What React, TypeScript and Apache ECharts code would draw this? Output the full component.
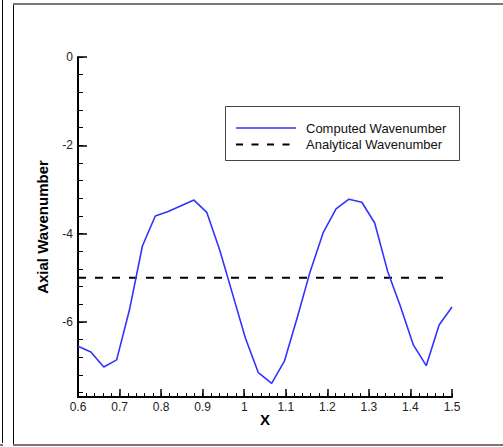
import React, { useEffect, useRef } from "react";
import * as echarts from "echarts";

const X_VALUES = [
  0.6, 0.631, 0.662, 0.693, 0.724, 0.755, 0.786, 0.817, 0.848, 0.879,
  0.91, 0.941, 0.972, 1.003, 1.034, 1.066, 1.097, 1.128, 1.159, 1.19,
  1.221, 1.252, 1.283, 1.314, 1.345, 1.376, 1.407, 1.438, 1.469, 1.5,
];
const COMPUTED = [
  -6.55, -6.68, -7.02, -6.86, -5.72, -4.28, -3.6, -3.5, -3.37, -3.24,
  -3.52, -4.37, -5.37, -6.37, -7.15, -7.39, -6.88, -5.89, -4.85, -3.98,
  -3.44, -3.22, -3.29, -3.76, -4.85, -5.65, -6.52, -6.99, -6.07, -5.66,
];
const ANALYTICAL_X = [0.6, 1.5];
const ANALYTICAL_Y = [-5, -5];

const X_TICKS = [0.6, 0.7, 0.8, 0.9, 1, 1.1, 1.2, 1.3, 1.4, 1.5];
const Y_TICKS = [0, -2, -4, -6];
const SERIES_NAMES = ["Computed Wavenumber", "Analytical Wavenumber"];
const X_TITLE = "X";
const Y_TITLE = "Axial Wavenumber";

const X_MIN = 0.6;
const X_MAX = 1.5;
const Y_MIN = -7.7;
const Y_MAX = 0;

function minorTicks(lo: number, hi: number, step: number): number[] {
  const out: number[] = [];
  const n = Math.round((hi - lo) / step);
  for (let i = 0; i <= n; i++) {
    out.push(Math.round((lo + i * step) * 1000) / 1000);
  }
  return out;
}

const X_MINOR = minorTicks(0.6, 1.5, 0.02);
const Y_MINOR = minorTicks(-7.6, 0, 0.4);

const FONT = "'Liberation Sans', Arial, Helvetica, sans-serif";
const BLUE = "#3333ff";

export default function App() {
  const ref = useRef<HTMLDivElement>(null);

  useEffect(() => {
    if (!ref.current) return;
    const chart = echarts.init(ref.current, undefined, { renderer: "svg" });

    const computedData = X_VALUES.map((x, i) => [x, COMPUTED[i]]);
    const analyticalData = ANALYTICAL_X.map((x, i) => [x, ANALYTICAL_Y[i]]);

    const axisFont = { fontFamily: FONT, fontSize: 12, color: "#222" };

    chart.setOption({
      animation: false,
      backgroundColor: "#ffffff",
      grid: { left: 78, top: 57, width: 374, height: 340, containLabel: false },
      xAxis: [
        {
          type: "value",
          min: X_MIN,
          max: X_MAX,
          position: "bottom",
          name: X_TITLE,
          nameLocation: "middle",
          nameGap: 15,
          nameMoveOverlap: false,
          nameTextStyle: { fontFamily: FONT, fontSize: 15, fontWeight: "bold", color: "#000" },
          axisLine: { show: true, onZero: false, lineStyle: { color: "#000", width: 2 } },
          axisTick: { show: true, inside: true, length: 8, customValues: X_TICKS, lineStyle: { color: "#000", width: 1.5 } },
          axisLabel: {
            show: true,
            margin: 4,
            customValues: X_TICKS,
            formatter: (v: number) => String(Math.round(v * 10) / 10),
            ...axisFont,
          },
          splitLine: { show: false },
        },
        {
          type: "value",
          min: X_MIN,
          max: X_MAX,
          position: "bottom",
          axisLine: { show: false, onZero: false },
          axisTick: { show: true, inside: true, length: 4, customValues: X_MINOR, lineStyle: { color: "#000", width: 1 } },
          axisLabel: { show: false },
          splitLine: { show: false },
        },
      ],
      yAxis: [
        {
          type: "value",
          min: Y_MIN,
          max: Y_MAX,
          position: "left",
          name: Y_TITLE,
          nameLocation: "middle",
          nameGap: 28,
          nameMoveOverlap: false,
          nameTextStyle: { fontFamily: FONT, fontSize: 15, fontWeight: "bold", color: "#000" },
          axisLine: { show: true, onZero: false, lineStyle: { color: "#000", width: 2 } },
          axisTick: { show: true, inside: true, length: 9, customValues: Y_TICKS, lineStyle: { color: "#000", width: 1.5 } },
          axisLabel: {
            show: true,
            margin: 5,
            customValues: Y_TICKS,
            formatter: (v: number) => String(Math.round(v)),
            ...axisFont,
          },
          splitLine: { show: false },
        },
        {
          type: "value",
          min: Y_MIN,
          max: Y_MAX,
          position: "left",
          axisLine: { show: false, onZero: false },
          axisTick: { show: true, inside: true, length: 5, customValues: Y_MINOR, lineStyle: { color: "#000", width: 1 } },
          axisLabel: { show: false },
          splitLine: { show: false },
        },
      ],
      series: [
        {
          name: SERIES_NAMES[0],
          type: "line",
          data: computedData,
          showSymbol: false,
          symbol: "none",
          lineStyle: { color: BLUE, width: 1.6 },
          z: 3,
        },
        {
          name: SERIES_NAMES[1],
          type: "line",
          data: analyticalData,
          showSymbol: false,
          symbol: "none",
          lineStyle: { color: "#000", width: 2, type: [8, 9] },
          z: 2,
        },
      ],
      graphic: [
        { type: "line", shape: { x1: 2.5, y1: 0, x2: 2.5, y2: 443 }, style: { stroke: "#000", lineWidth: 1 } },
        { type: "line", shape: { x1: 13.5, y1: 4, x2: 13.5, y2: 444 }, style: { stroke: "#000", lineWidth: 1 } },
        { type: "line", shape: { x1: 13, y1: 4, x2: 503, y2: 4 }, style: { stroke: "#777", lineWidth: 2 } },
        { type: "line", shape: { x1: 13, y1: 445, x2: 503, y2: 445 }, style: { stroke: "#777", lineWidth: 2 } },
        { type: "line", shape: { x1: 0, y1: 445, x2: 3, y2: 445 }, style: { stroke: "#777", lineWidth: 2 } },
        {
          type: "rect",
          shape: { x: 225.5, y: 106.5, width: 234, height: 54 },
          style: { fill: "#fff", stroke: "#444", lineWidth: 1 },
          z: 10,
        },
        {
          type: "line",
          shape: { x1: 236, y1: 128, x2: 296, y2: 128 },
          style: { stroke: BLUE, lineWidth: 1.6 },
          z: 11,
        },
        {
          type: "line",
          shape: { x1: 236, y1: 144.5, x2: 296, y2: 144.5 },
          style: { stroke: "#000", lineWidth: 2, lineDash: [7, 8.5] },
          z: 11,
        },
        {
          type: "text",
          x: 306,
          y: 128,
          style: { text: SERIES_NAMES[0], fontFamily: FONT, fontSize: 13, fill: "#111", textVerticalAlign: "middle", verticalAlign: "middle" },
          z: 11,
        },
        {
          type: "text",
          x: 306,
          y: 144.5,
          style: { text: SERIES_NAMES[1], fontFamily: FONT, fontSize: 13, fill: "#111", textVerticalAlign: "middle", verticalAlign: "middle" },
          z: 11,
        },
      ],
    });

    return () => {
      chart.dispose();
    };
  }, []);

  return (
    <div
      ref={ref}
      style={{ position: "fixed", left: 0, top: 0, width: 503, height: 447, background: "#fff" }}
    />
  );
}
